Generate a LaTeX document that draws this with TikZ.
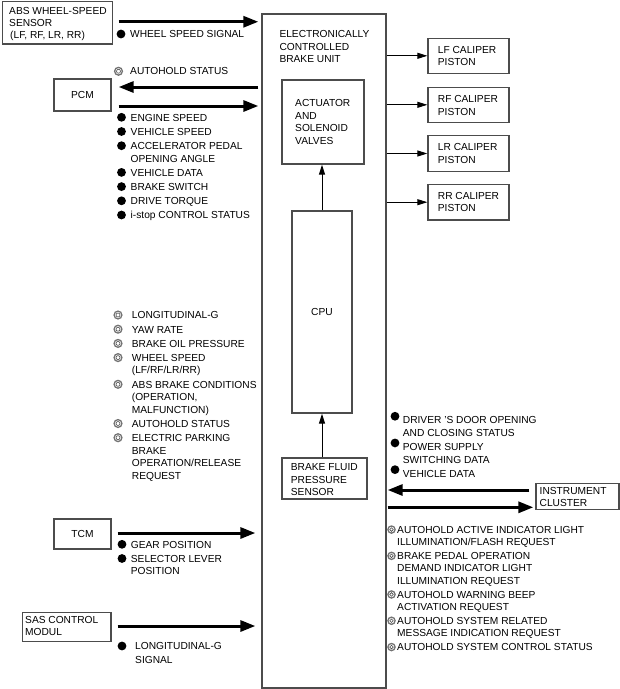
\documentclass[tikz,border=0pt]{standalone}
\usepackage{fontspec}
\setmainfont{Liberation Sans}
\usetikzlibrary{arrows.meta}
\newcommand\Rl{\rule{0pt}{8pt}}
\begin{document}
\begin{tikzpicture}[x=1pt,y=-1pt,
  box/.style={draw=black!70, line width=1.3pt, inner sep=0pt, font=\fontsize{10.2}{12.5}\selectfont},
  txt/.style={font=\fontsize{10.2}{12.5}\selectfont, align=left, inner sep=0pt, anchor=north west},
  txtr/.style={font=\fontsize{10.2}{12.3}\selectfont, align=left, inner sep=0pt, anchor=north west},
  txts/.style={font=\fontsize{10.2}{12}\selectfont, align=left, inner sep=0pt, anchor=north west},
  bigarrow/.style={line width=3pt, -{Triangle[length=15pt,width=11pt]}},
  tarrow/.style={line width=1pt, -{Triangle[length=10pt,width=6pt]}},
  fdot/.style={fill=black},
  hring/.style={draw=black!55, line width=1.3pt},
  iring/.style={draw=black!70, line width=0.6pt}
]
\useasboundingbox (0,0) rectangle (620,689);

% ---------- central unit ----------
\node[box, minimum width=124pt, minimum height=674pt] (ecbu) at (324,351) {};
\node[txt] (ecbut) at (279.3,29.65) {\Rl ELECTRONICALLY\\CONTROLLED\\BRAKE UNIT};
\node[box, minimum width=82pt, minimum height=84pt] (act) at (323,122) {};
\node[txt] (actt) at (295,98.35) {\Rl ACTUATOR\\AND\\SOLENOID\\VALVES};
\node[box, minimum width=60pt, minimum height=202pt] (cpu) at (322,312) {CPU};
\node[box, minimum width=85pt, minimum height=41pt] (bfps) at (324.5,478.5) {};
\node[txt] (bfpst) at (290.7,462.35) {\Rl BRAKE FLUID\\PRESSURE\\SENSOR};
\draw[tarrow] (cpu.north) -- (cpu.north |- act.south);
\draw[tarrow] (cpu.south |- bfps.north) -- (cpu.south);

% ---------- calipers ----------
\node[box, minimum width=81pt, minimum height=35pt] (lf) at (468.5,55.8) {};
\node[box, minimum width=81pt, minimum height=35pt] (rf) at (468.5,104.8) {};
\node[box, minimum width=81pt, minimum height=35.6pt] (lr) at (468.5,153.5) {};
\node[box, minimum width=81pt, minimum height=35.6pt] (rr) at (468.5,202.2) {};
\node[txt] (lft) at (437.7,44.95) {\Rl LF CALIPER\\PISTON};
\node[txt] (rft) at (437.7,94.35) {\Rl RF CALIPER\\PISTON};
\node[txt] (lrt) at (437.7,142.35) {\Rl LR CALIPER\\PISTON};
\node[txt] (rrt) at (437.7,190.95) {\Rl RR CALIPER\\PISTON};
\foreach \c in {lf,rf,lr,rr} \draw[tarrow] (\c.west -| ecbu.east) -- (\c.west);

% ---------- ABS sensor ----------
\node[box, minimum width=110pt, minimum height=42.5pt] (abs) at (57.5,22.75) {};
\node[txts] (abst) at (9,6.35) {\Rl ABS WHEEL-SPEED\\SENSOR\\\hspace*{1pt}(LF, RF, LR, RR)};
\draw[bigarrow] ([xshift=5.5pt,yshift=1pt]abs.east) -- ([xshift=-3pt,yshift=1pt]abs.east -| ecbu.west);
\node[txt] (wss) at (130,29.65) {\Rl WHEEL SPEED SIGNAL};
\fill[fdot] ([xshift=-9pt,yshift=-4.35pt]wss.north west) circle (4.4pt);

% ---------- PCM ----------
\node[txt] (ahs) at (130,66.65) {\Rl AUTOHOLD STATUS};
\draw[hring] ([xshift=-11.5pt,yshift=-4.6pt]ahs.north west) circle (3.9pt);
\draw[iring] ([xshift=-11.5pt,yshift=-4.6pt]ahs.north west) circle (2pt);
\node[box, minimum width=57pt, minimum height=32pt] (pcm) at (82.5,95) {PCM};
\draw[bigarrow] ([xshift=-3pt,yshift=8pt]pcm.east -| ecbu.west) -- ([xshift=7pt,yshift=8pt]pcm.east);
\draw[bigarrow] ([xshift=7pt,yshift=-11pt]pcm.east) -- ([xshift=-3pt,yshift=-11pt]pcm.east -| ecbu.west);
\node[txt] (pcml) at (130.5,112.95) {\Rl ENGINE SPEED\\[1.7pt] VEHICLE SPEED\\[1.7pt] ACCELERATOR PEDAL\\ OPENING ANGLE\\[1.7pt] VEHICLE DATA\\[1.7pt] BRAKE SWITCH\\[1.7pt] DRIVE TORQUE\\[1.7pt] i-stop CONTROL STATUS};
\foreach \o in {0,14.2,28.4,55.1,69.3,83.5,97.7}
  \fill[fdot] ([xshift=-9pt,yshift={-(4.35+\o)*1pt}]pcml.north west) circle (4.4pt);

% ---------- left hollow list ----------
\node[txt] (hl) at (131.7,310.65) {\Rl LONGITUDINAL-G\\[1.7pt] YAW RATE\\[1.7pt] BRAKE OIL PRESSURE\\[1.7pt] WHEEL SPEED\\ (LF/RF/LR/RR)\\[1.7pt] ABS BRAKE CONDITIONS\\ (OPERATION,\\ MALFUNCTION)\\[1.7pt] AUTOHOLD STATUS\\[1.7pt] ELECTRIC PARKING\\ BRAKE\\ OPERATION/RELEASE\\ REQUEST};
\foreach \o in {0,14.2,28.4,42.6,69.3,108.5,122.7} {
  \draw[hring] ([xshift=-13.7pt,yshift={-(4.35+\o)*1pt}]hl.north west) circle (3.9pt);
  \draw[iring] ([xshift=-13.7pt,yshift={-(4.35+\o)*1pt}]hl.north west) circle (2pt);
}

% ---------- TCM ----------
\node[box, minimum width=57pt, minimum height=30pt] (tcm) at (82.5,534) {TCM};
\draw[bigarrow] ([xshift=6pt,yshift=1pt]tcm.east) -- ([xshift=-6pt,yshift=1pt]tcm.east -| ecbu.west);
\node[txt] (tcml) at (130.7,539.95) {\Rl GEAR POSITION\\[1.7pt] SELECTOR LEVER\\ POSITION};
\foreach \o in {0,14.2}
  \fill[fdot] ([xshift=-8.7pt,yshift={-(4.35+\o)*1pt}]tcml.north west) circle (4.4pt);

% ---------- SAS ----------
\node[box, minimum width=88.3pt, minimum height=29pt] (sas) at (66.85,627.2) {};
\node[txts] (sast) at (25,614.95) {\Rl SAS CONTROL\\MODUL};
\draw[bigarrow] ([xshift=6pt,yshift=1.2pt]sas.east) -- ([xshift=-6pt,yshift=1.2pt]sas.east -| ecbu.west);
\node[txt] (sasl) at (135,641.65) {\Rl LONGITUDINAL-G\\[1.5pt] SIGNAL};
\fill[fdot] ([xshift=-13pt,yshift=-4.35pt]sasl.north west) circle (4.4pt);

% ---------- instrument cluster ----------
\node[txt] (rd) at (402.7,415.65) {\Rl DRIVER 'S DOOR OPENING\\ AND CLOSING STATUS\\[1.7pt] POWER SUPPLY\\ SWITCHING DATA\\[1.7pt] VEHICLE DATA};
\foreach \o in {0,26.7,53.4}
  \fill[fdot] ([xshift=-7.7pt,yshift={-(0.6+\o)*1pt}]rd.north west) circle (4.4pt);
\node[box, minimum width=83pt, minimum height=26pt] (ic) at (577.5,496.3) {};
\node[txt] (ict) at (539.5,486) {\Rl INSTRUMENT\\CLUSTER};
\draw[bigarrow] ([xshift=-6pt,yshift=6.3pt]ic.west) -- ([xshift=1pt,yshift=6.3pt]ic.west -| ecbu.east);
\draw[bigarrow] ([xshift=1pt,yshift=-11pt]ic.west -| ecbu.east) -- ([xshift=-2pt,yshift=-11pt]ic.west);
\node[txtr] (hr) at (397,524.95) {\Rl AUTOHOLD ACTIVE INDICATOR LIGHT\\ ILLUMINATION/FLASH REQUEST\\[1.7pt] BRAKE PEDAL OPERATION\\ DEMAND INDICATOR LIGHT\\ ILLUMINATION REQUEST\\[1.7pt] AUTOHOLD WARNING BEEP\\ ACTIVATION REQUEST\\[1.7pt] AUTOHOLD SYSTEM RELATED\\ MESSAGE INDICATION REQUEST\\[1.7pt] AUTOHOLD SYSTEM CONTROL STATUS};
\foreach \o in {0,26.3,64.9,91.2,117.5} {
  \draw[hring] ([xshift=-5.5pt,yshift={-(4.6+\o)*1pt}]hr.north west) circle (3.6pt);
  \draw[iring] ([xshift=-5.5pt,yshift={-(4.6+\o)*1pt}]hr.north west) circle (1.8pt);
}
\end{tikzpicture}
\end{document}
